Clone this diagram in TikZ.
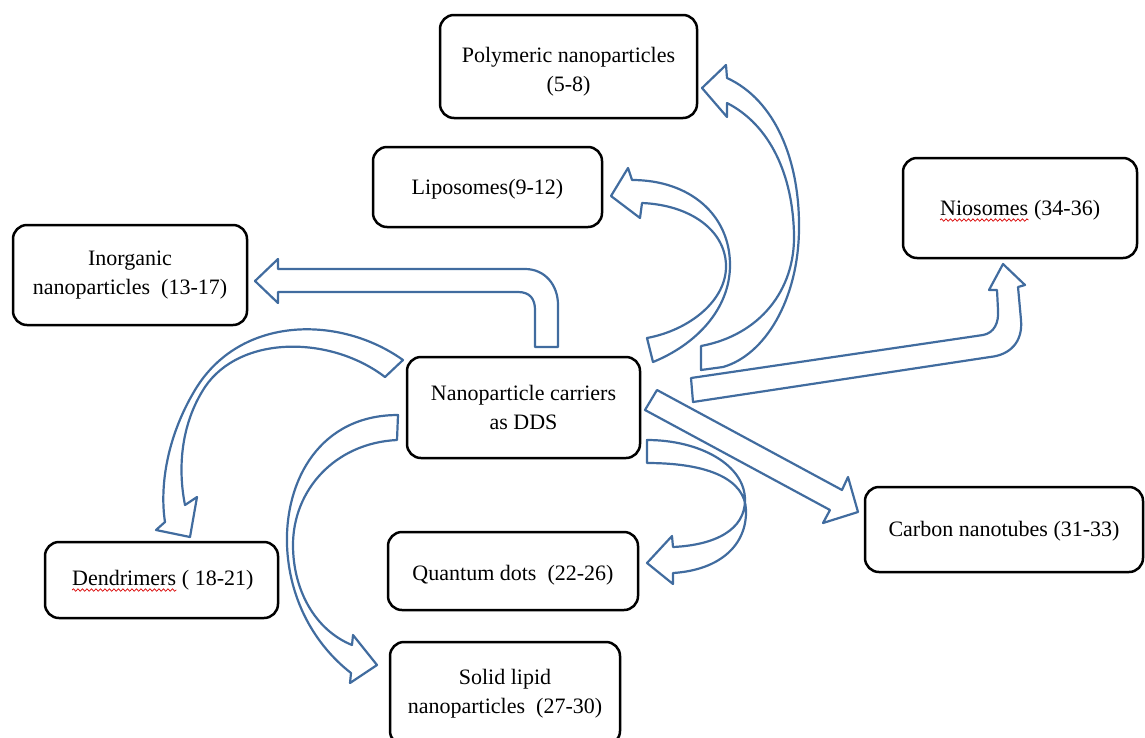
\documentclass[tikz,border=0pt]{standalone}
\usepackage{fontspec}
\setmainfont{Liberation Serif}
\usetikzlibrary{decorations.pathmorphing}
\definecolor{arrowblue}{HTML}{416C9F}
\begin{document}
\begin{tikzpicture}[x=1pt,y=-1pt,
  box/.style={draw=black, line width=2.5pt, rounded corners=14pt, fill=white, inner sep=0pt},
  txt/.style={inner sep=0pt, align=center, font=\fontsize{22}{29}\selectfont},
  arr/.style={draw=arrowblue, line width=2.2pt, line join=round},
  squig/.style={draw=red!85!black, line width=0.7pt, decorate, decoration={snake, amplitude=1.2pt, segment length=4.5pt}}]
\useasboundingbox (0,0) rectangle (1145,737);
\clip (0,0) rectangle (1145,737);

% boxes
\node[box, minimum width=257pt, minimum height=103pt] (poly) at (568.5,66.5) {};
\node[box, minimum width=229pt, minimum height=80pt] (lipo) at (487.5,187) {};
\node[box, minimum width=234pt, minimum height=100pt] (nio) at (1020,208) {};
\node[box, minimum width=234pt, minimum height=100pt] (inorg) at (130,275) {};
\node[box, minimum width=233pt, minimum height=101pt] (dds) at (523.5,407.5) {};
\node[box, minimum width=233pt, minimum height=76pt] (dend) at (161.5,580) {};
\node[box, minimum width=250pt, minimum height=78pt] (qd) at (513,571) {};
\node[box, minimum width=230pt, minimum height=103pt] (sln) at (505,693.5) {};
\node[box, minimum width=278pt, minimum height=85pt] (cnt) at (1004,529.5) {};

% texts
\node[txt] (polyT) at ([yshift=-5pt]poly.center) {Polymeric nanoparticles\\(5-8)};
\node[txt] (lipoT) at ([yshift=-2pt]lipo.center) {Liposomes(9-12)};
\node[txt, anchor=base west] (nioW) at (940,215) {Niosomes};
\node[txt, anchor=base west] (nioN) at ([xshift=5.5pt]nioW.base east) {(34-36)};
\node[txt] (inorgT) at (inorg.center) {Inorganic\\nanoparticles~~(13-17)};
\node[txt] (ddsT) at (dds.center) {Nanoparticle carriers\\as DDS};
\node[txt, anchor=base west] (dendW) at (72,585) {Dendrimers};
\node[txt, anchor=base west] (dendN) at ([xshift=5.5pt]dendW.base east) {(\ 18-21)};
\node[txt] (qdT) at ([yshift=-4pt]qd.center) {Quantum dots~~(22-26)};
\node[txt] (slnT) at (sln.center) {Solid lipid\\nanoparticles~~(27-30)};
\node[txt] (cntT) at ([yshift=-2pt]cnt.center) {Carbon nanotubes (31-33)};

% spell-check squiggles
\draw[squig] ([yshift=-5pt]nioW.base west) -- ([yshift=-5pt]nioW.base east);
\draw[squig] ([yshift=-5pt]dendW.base west) -- ([yshift=-5pt]dendW.base east);

% block arrows
% inorganic (bent arrow)
\draw[arr] (535,347) -- (535,310) .. controls (535,299) and (530,292) .. (518,292)
  -- (278,292) -- (278,303) -- (255,281) -- (278,259) -- (278,269) -- (525,269)
  .. controls (545,269) and (558,285) .. (558,305) -- (558,347) -- cycle;
% liposomes (curved)
\draw[arr] (632,180) -- (628,168) -- (611,196) -- (640,218) -- (642,203)
  .. controls (690,205) and (725,230) .. (726,265)
  .. controls (727,300) and (690,330) .. (647,338)
  -- (653,362)
  .. controls (695,345) and (730,310) .. (730,265)
  .. controls (730,215) and (690,180) .. (632,180)
  -- cycle;
% polymeric (curved)
\draw[arr] (727,78) -- (726,65) -- (702,88) -- (727,117) -- (727,103)
  .. controls (770,125) and (793,175) .. (794,235)
  .. controls (795,290) and (760,335) .. (701,346)
  -- (701,370) -- (723,367)
  .. controls (765,355) and (798,300) .. (799,230)
  .. controls (800,160) and (775,100) .. (727,78)
  -- cycle;
% niosomes (bent-up)
\draw[arr] (691,378) -- (983,335) .. controls (994,333) and (999,323) .. (998,310)
  -- (997,290) -- (989,290) -- (1003,264) -- (1025,285) -- (1018,287)
  -- (1021,320) .. controls (1023,342) and (1010,355) .. (990,357) -- (693,402) -- cycle;
% carbon nanotubes (straight)
\draw[arr] (657,390) -- (842,490) -- (848,477) -- (858,512) -- (823,523) -- (830,510) -- (645,410) -- cycle;
% quantum dots (curved)
\draw[arr] (647,440) .. controls (700,440) and (745,465) .. (745,500)
  .. controls (745,530) and (715,545) .. (673,547)
  -- (672,536) -- (647,563) -- (673,584) -- (673,573)
  .. controls (720,570) and (747,545) .. (746,510)
  .. controls (745,480) and (710,463) .. (647,463)
  -- cycle;
% dendrimers (curved)
\draw[arr] (403,360) -- (385,377)
  .. controls (330,335) and (240,335) .. (205,387)
  .. controls (180,425) and (178,470) .. (185,505)
  -- (197,497) -- (190,537) -- (156,530) -- (165,522)
  .. controls (160,490) and (165,440) .. (195,390)
  .. controls (240,315) and (340,315) .. (403,360)
  -- cycle;
% solid lipid (curved)
\draw[arr] (398,415) -- (397,440)
  .. controls (335,443) and (293,490) .. (293,545)
  .. controls (293,590) and (315,630) .. (352,645)
  -- (353,635) -- (377,665) -- (350,683) -- (351,673)
  .. controls (315,645) and (289,600) .. (287,545)
  .. controls (285,480) and (320,415) .. (398,415)
  -- cycle;
\end{tikzpicture}
\end{document}
